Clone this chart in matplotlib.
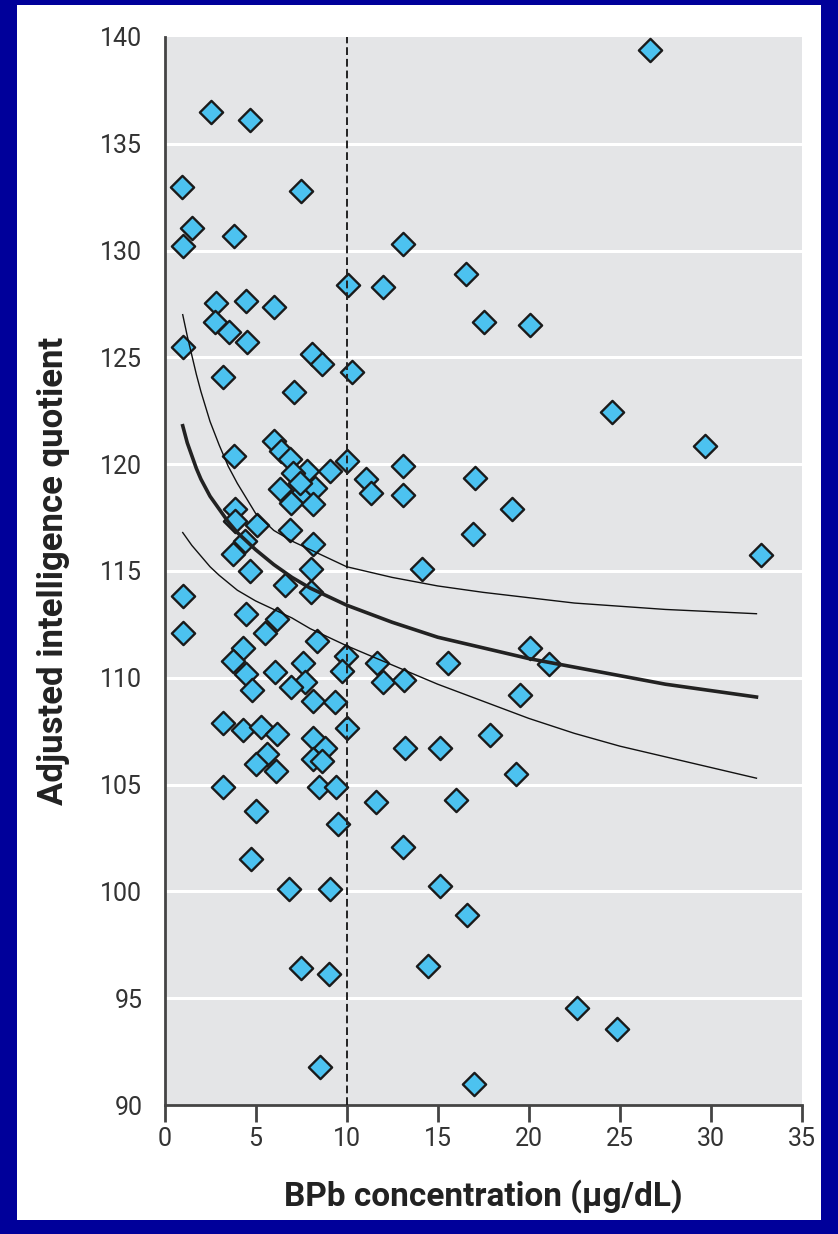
import matplotlib
matplotlib.use("Agg")
import matplotlib.pyplot as plt
from matplotlib.patches import Rectangle

# blood lead (ug/dL) and adjusted IQ
bpb = [2.57, 4.72, 0.95, 7.52, 1.52, 3.80, 1.01, 10.05, 12.01, 2.85,
       4.46, 6.02, 2.75, 3.52, 4.53, 1.01, 8.11, 8.62, 10.28, 3.21,
       7.10, 3.80, 6.02, 6.42, 6.88, 7.80, 7.06, 9.08, 10.04, 11.09,
       11.34, 6.33, 7.61, 8.26, 6.97, 8.16, 7.43, 3.85, 3.85, 5.08,
       6.88, 8.16, 4.40, 3.76, 4.68, 6.60, 8.07, 8.07, 1.01, 1.01,
       4.50, 6.15, 5.50, 8.35, 4.31, 3.76, 4.50, 4.83, 6.05, 7.61,
       7.71, 6.97, 8.13, 9.38, 9.99, 9.72, 11.65, 12.01, 3.21, 4.31,
       5.32, 6.15, 10.02, 8.15, 8.81, 8.13, 8.62, 5.60, 5.01, 6.11,
       3.21, 8.49, 9.41, 11.61, 5.05, 9.54, 4.77, 6.84, 9.08, 7.52,
       9.04, 8.53, 13.08, 16.57, 17.56, 20.05, 13.08, 13.08, 17.02, 19.08,
       16.91, 14.13, 20.09, 21.10, 15.59, 13.15, 19.54, 17.85, 13.21, 15.13,
       19.32, 16.02, 13.12, 15.10, 16.60, 14.49, 22.62, 24.82, 16.97, 26.66,
       24.58, 29.66, 32.75]
iq = [136.5, 136.1, 133.0, 132.8, 131.05, 130.7, 130.2, 128.4, 128.3, 127.55,
      127.65, 127.35, 126.65, 126.2, 125.7, 125.5, 125.15, 124.7, 124.3, 124.1,
      123.4, 120.4, 121.1, 120.6, 120.25, 119.7, 119.6, 119.7, 120.15, 119.3,
      118.65, 118.85, 118.7, 118.9, 118.2, 118.15, 119.1, 117.9, 117.35, 117.15,
      116.9, 116.25, 116.4, 115.8, 115.0, 114.35, 115.1, 114.0, 113.85, 112.1,
      113.0, 112.75, 112.1, 111.7, 111.4, 110.8, 110.2, 109.45, 110.25, 110.7,
      109.8, 109.55, 108.9, 108.85, 111.0, 110.3, 110.7, 109.8, 107.9, 107.55,
      107.7, 107.35, 107.65, 107.2, 106.7, 106.2, 106.1, 106.45, 105.95, 105.65,
      104.9, 104.9, 104.9, 104.2, 103.75, 103.15, 101.5, 100.1, 100.1, 96.4,
      96.15, 91.8, 130.3, 128.9, 126.65, 126.5, 119.9, 118.55, 119.35, 117.9,
      116.75, 115.1, 111.4, 110.65, 110.7, 109.9, 109.2, 107.3, 106.7, 106.7,
      105.5, 104.3, 102.1, 100.25, 98.9, 96.5, 94.55, 93.55, 91.0, 139.4,
      122.45, 120.85, 115.75]

# fitted curve and its confidence band, read at these concentrations
curve_x = [1, 1.25, 1.5, 1.75, 2, 2.5, 3, 3.5, 4, 5, 6, 7, 8, 10, 12.5, 15,
           17.5, 20, 22.5, 25, 27.5, 30, 32.5]
fit_y = [121.8, 121.0, 120.4, 119.8, 119.3, 118.5, 117.9, 117.3, 116.8, 116.0,
         115.3, 114.7, 114.2, 113.4, 112.6, 111.9, 111.4, 110.9, 110.5, 110.1,
         109.7, 109.4, 109.1]
upper_y = [127.0, 126.0, 125.1, 124.2, 123.4, 122.0, 120.9, 119.9, 119.1, 117.7,
           116.9, 116.4, 116.0, 115.2, 114.7, 114.3, 114.0, 113.75, 113.5, 113.35,
           113.2, 113.1, 113.0]
lower_y = [116.8, 116.5, 116.2, 115.95, 115.7, 115.2, 114.8, 114.45, 114.1, 113.6,
           113.2, 112.8, 112.3, 111.5, 110.6, 109.7, 108.9, 108.1, 107.4, 106.8,
           106.3, 105.8, 105.3]

xticks = [0, 5, 10, 15, 20, 25, 30, 35]
yticks = [90, 95, 100, 105, 110, 115, 120, 125, 130, 135, 140]

plt.rcParams["font.family"] = ["Roboto", "DejaVu Sans"]

W, H = 838, 1234
fig = plt.figure(figsize=(W / 100, H / 100), dpi=100, facecolor="#00009a")
fig.patches.append(Rectangle((17 / W, 1 - 1220 / H), (821 - 17) / W, (1220 - 5) / H,
                             transform=fig.transFigure, facecolor="white",
                             edgecolor="none", zorder=-10))

ax = fig.add_axes([164.5 / W, 1 - 1105 / H, (802 - 164.5) / W, (1105 - 37) / H])
ax.set_zorder(1)
ax.set_facecolor("#e4e5e7")
ax.set_xlim(0, 35)
ax.set_ylim(90, 140)

for y in yticks[1:-1]:
    ax.axhline(y, color="white", lw=2.2, zorder=1)
ax.axvline(10, color="#222222", lw=1.4, ls=(0, (4, 2)), zorder=4)

ax.scatter(bpb, iq, marker="D", s=140, facecolor="#4cc2f0",
           edgecolor="#1a1a1a", linewidth=1.7, zorder=3)

ax.plot(curve_x, fit_y, color="#222222", lw=2.6, zorder=5)
ax.plot(curve_x, upper_y, color="#111111", lw=1.0, zorder=5)
ax.plot(curve_x, lower_y, color="#111111", lw=1.0, zorder=5)

for side in ["top", "right"]:
    ax.spines[side].set_visible(False)
for side in ["left", "bottom"]:
    ax.spines[side].set_color("#444444")
    ax.spines[side].set_linewidth(2)

ax.set_xticks(xticks)
ax.set_yticks(yticks)
ax.tick_params(axis="x", direction="out", length=12, width=2, color="#444444",
               labelsize=18, labelcolor="#333333", pad=4)
ax.tick_params(axis="y", length=0, labelsize=18, labelcolor="#333333", pad=16)

ax.set_xlabel("BPb concentration (\u03bcg/dL)", fontsize=24, fontweight="bold",
              color="#222222", labelpad=20)
ax.set_ylabel("Adjusted intelligence quotient", fontsize=25, fontweight="bold",
              color="#222222", labelpad=22)

fig.savefig("out.png", dpi=100, facecolor=fig.get_facecolor())
